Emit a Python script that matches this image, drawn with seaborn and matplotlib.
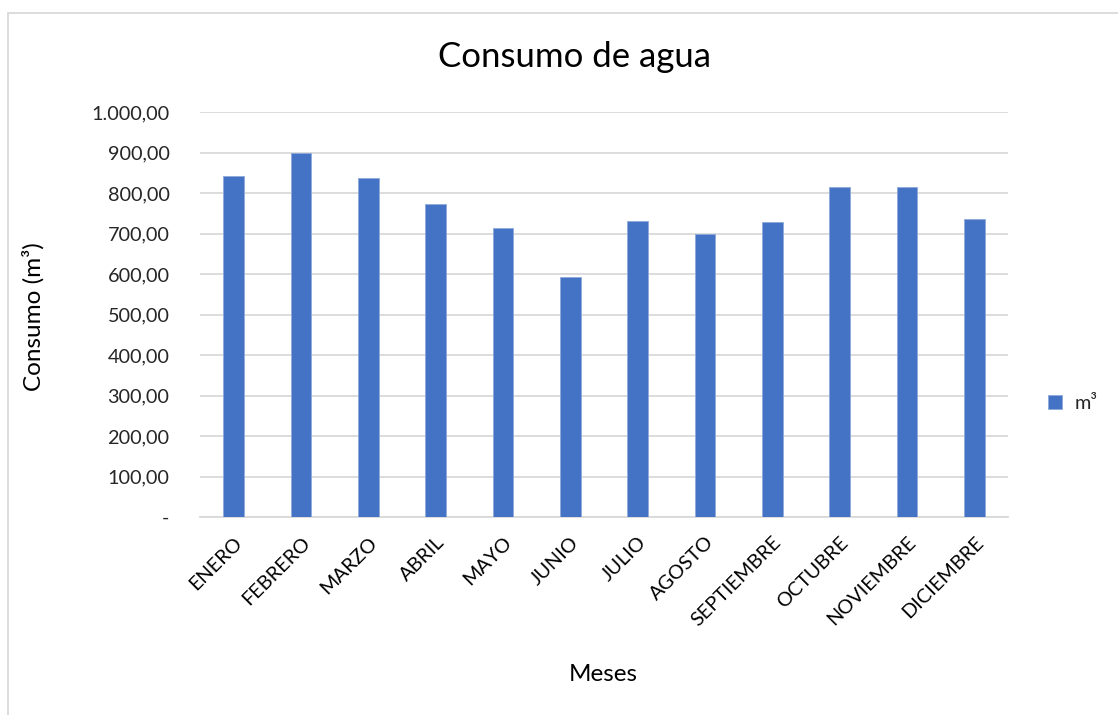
import matplotlib
matplotlib.use("Agg")
import matplotlib.pyplot as plt
from matplotlib.patches import Rectangle
from matplotlib.ticker import FixedLocator, FuncFormatter
import seaborn as sns
import pandas as pd

meses = ["ENERO", "FEBRERO", "MARZO", "ABRIL", "MAYO", "JUNIO", "JULIO",
         "AGOSTO", "SEPTIEMBRE", "OCTUBRE", "NOVIEMBRE", "DICIEMBRE"]
consumo_m3 = [841, 900, 838, 773, 714, 592, 731, 698, 729, 816, 814, 737]
y_ticks = [0, 100, 200, 300, 400, 500, 600, 700, 800, 900, 1000]

sns.set_theme(style="white")
plt.rcParams["font.family"] = ["Lato", "DejaVu Sans"]

df = pd.DataFrame({"Mes": meses, "Consumo": consumo_m3, "Serie": "m³"})

W, H = 1118, 715
fig = plt.figure(figsize=(W / 100, H / 100), dpi=100)
ax = fig.add_axes([200 / W, 1 - 517 / H, 808 / W, 405 / H])

bar_color = "#4472C4"
sns.barplot(data=df, x="Mes", y="Consumo", hue="Serie", palette=[bar_color],
            saturation=1, width=0.31, ax=ax, edgecolor="#8EA9DB",
            linewidth=0.6, zorder=3)

ax.set_ylim(0, 1000)
ax.set_xlim(-0.5, len(meses) - 0.5)
ax.yaxis.set_major_locator(FixedLocator(y_ticks))


def fmt_es(v, _pos):
    if v == 0:
        return "-"
    s = f"{v:,.2f}"
    return s.replace(",", "X").replace(".", ",").replace("X", ".")


ax.yaxis.set_major_formatter(FuncFormatter(fmt_es))
ax.grid(axis="y", color="#D9D9D9", linewidth=1.3, zorder=0)
ax.set_axisbelow(True)
for side in ["top", "right", "left"]:
    ax.spines[side].set_visible(False)
ax.spines["bottom"].set_color("#D9D9D9")
ax.spines["bottom"].set_linewidth(1.3)

ax.tick_params(axis="y", length=0, pad=22, labelsize=14.3, labelcolor="#262626")
ax.tick_params(axis="x", length=0, pad=12, labelsize=14.3, labelcolor="#000000")
for lab in ax.get_xticklabels():
    lab.set_rotation(45)
    lab.set_ha("right")
    lab.set_rotation_mode("anchor")

ax.set_xlabel("Meses", fontsize=17.5, color="#000000")
ax.set_ylabel("Consumo (m³)", fontsize=17.5, color="#000000")
ax.xaxis.set_label_coords(0.4988, -0.39)
ax.xaxis.label.set_va("center")
ax.yaxis.set_label_coords(-0.2067, 0.494)
ax.yaxis.label.set_va("center")
fig.text(574 / W, 1 - 57 / H, "Consumo de agua", ha="center", va="center",
         fontsize=25, color="#000000")

leg = ax.legend(loc="center left", bbox_to_anchor=(1.028, 0.28), frameon=False,
                fontsize=14.3, handlelength=0.7, handleheight=0.7,
                handletextpad=0.6)

# light frame around the chart area
fig.add_artist(Rectangle((7.5 / W, -0.05), 1.2, 1 - 13 / H + 0.05,
                         transform=fig.transFigure, fill=False,
                         edgecolor="#D9D9D9", linewidth=1.3))

fig.savefig("out.png", dpi=100, facecolor="white")
